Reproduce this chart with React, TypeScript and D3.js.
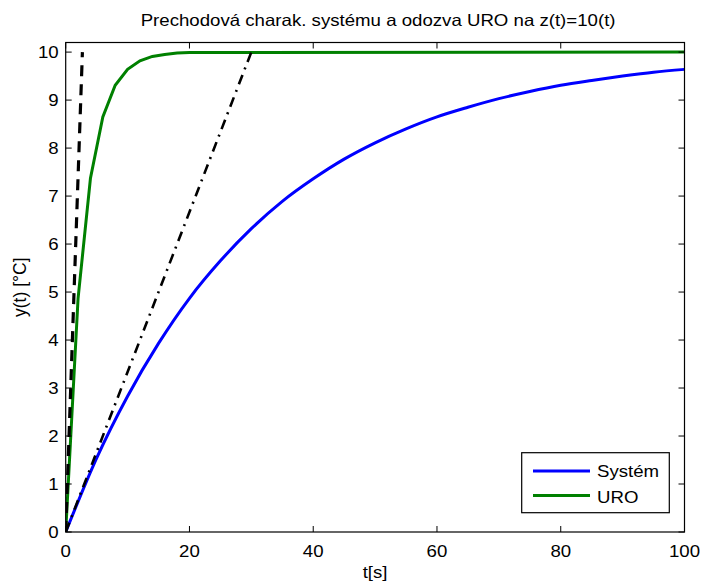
import React from "react";
import * as d3 from "d3";

// values
const sysTime = [0, 5, 10, 15, 20, 25, 30, 35, 40, 45, 50, 55, 60, 65, 70, 75, 80, 85, 90, 95, 100];
const sysValue = [0, 1.54, 2.83, 3.93, 4.87, 5.65, 6.32, 6.89, 7.36, 7.77, 8.11, 8.4, 8.65, 8.85, 9.03, 9.18, 9.31, 9.41, 9.5, 9.58, 9.64];
const uroTime = [0, 2, 4, 6, 8, 10, 12, 14, 16, 18, 20, 100];
const uroValue = [0, 4.87, 7.37, 8.65, 9.31, 9.64, 9.82, 9.91, 9.95, 9.98, 9.99, 10];
const tangentSys = [[0, 0], [30, 10]];
const tangentUro = [[0, 0], [2.7, 10]];
const xTicks = [0, 20, 40, 60, 80, 100];
const yTicks = [0, 1, 2, 3, 4, 5, 6, 7, 8, 9, 10];

// text in the reference is a bit wider than it is tall
const T = (p: { x: number; y: number; size?: number; anchor?: string; children: any }) => (
  <text
    transform={`translate(${p.x},${p.y}) scale(1.13,1)`}
    textAnchor={p.anchor || "start"}
    fontSize={p.size || 16.5}
  >
    {p.children}
  </text>
);

export default function App() {
  const W = 702, H = 582;
  const left = 65.7, right = 684.5, top = 42.5, bottom = 532;
  const x = d3.scaleLinear().domain([0, 100]).range([left, right]);
  const y = d3.scaleLinear().domain([0, 10.2]).range([bottom, top]);
  const line = d3.line<number[]>().x(d => x(d[0])).y(d => y(d[1]));
  const smooth = d3.line<number[]>().x(d => x(d[0])).y(d => y(d[1])).curve(d3.curveMonotoneX);
  const sys = sysTime.map((t, i) => [t, sysValue[i]]);
  const uro = uroTime.map((t, i) => [t, uroValue[i]]);
  const font = "Liberation Sans, Arial, sans-serif";
  const tl = 6;

  return (
    <svg width={W} height={H} style={{ position: "absolute", left: 0, top: 0 }} fontFamily={font}>
      <rect width={W} height={H} fill="#fff" />
      <defs>
        <clipPath id="plot">
          <rect x={left} y={top} width={right - left} height={bottom - top} />
        </clipPath>
      </defs>
      <g clipPath="url(#plot)" fill="none" strokeWidth={3}>
        <path d={smooth(sys)!} stroke="#0000ff" />
        <path d={line(uro)!} stroke="#008000" />
        <path d={line(tangentSys)!} stroke="#000" strokeDasharray="10,6,2,6" strokeWidth={2.6} />
        <path d={line(tangentUro)!} stroke="#000" strokeDasharray="11,8" strokeWidth={3.2} />
      </g>
      <rect x={left} y={top} width={right - left} height={bottom - top} fill="none" stroke="#000" strokeWidth={1.2} />
      {xTicks.map(t => (
        <g key={"x" + t}>
          <line x1={x(t)} x2={x(t)} y1={bottom} y2={bottom - tl} stroke="#000" />
          <line x1={x(t)} x2={x(t)} y1={top} y2={top + tl} stroke="#000" />
          <T x={x(t)} y={557} anchor="middle">{t}</T>
        </g>
      ))}
      {yTicks.map(t => (
        <g key={"y" + t}>
          <line x1={left} x2={left + tl} y1={y(t)} y2={y(t)} stroke="#000" />
          <line x1={right} x2={right - tl} y1={y(t)} y2={y(t)} stroke="#000" />
          <T x={left - 7} y={y(t) + 6} anchor="end">{t}</T>
        </g>
      ))}
      <T x={(left + right) / 2 + 3} y={26} anchor="middle">
        Prechodová charak. systému a odozva URO na z(t)=10(t)
      </T>
      <T x={(left + right) / 2} y={578} anchor="middle">t[s]</T>
      <text transform={`translate(26,${(top + bottom) / 2}) rotate(-90)`} textAnchor="middle" fontSize={17.5}>
        y(t) [°C]
      </text>
      <g>
        <rect x={521.7} y={452.7} width={147.6} height={60} fill="#fff" stroke="#000" strokeWidth={1.2} />
        <line x1={533} x2={590} y1={471} y2={471} stroke="#0000ff" strokeWidth={3} />
        <T x={597} y={477}>Systém</T>
        <line x1={533} x2={590} y1={495.5} y2={495.5} stroke="#008000" strokeWidth={3} />
        <T x={597} y={502.5}>URO</T>
      </g>
    </svg>
  );
}
